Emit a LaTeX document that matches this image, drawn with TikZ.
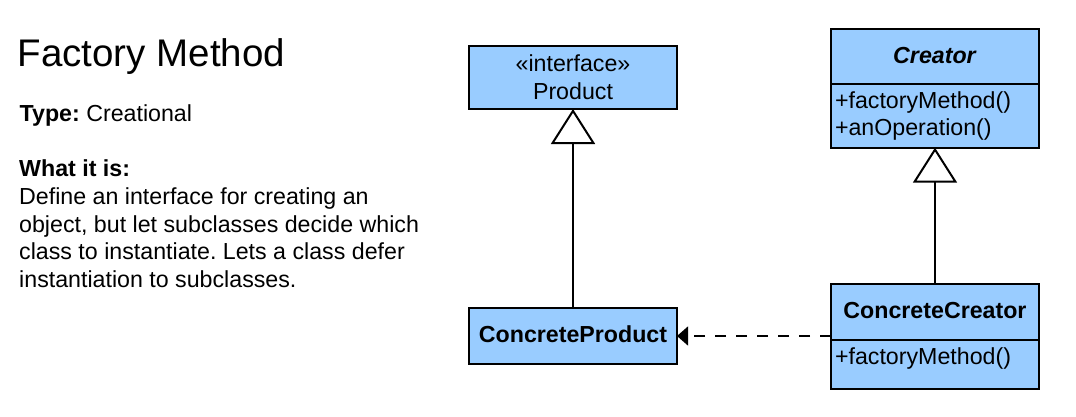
\documentclass[tikz,border=0pt]{standalone}
\usepackage{fontspec}
\setmainfont{Liberation Sans}
\usepackage{xcolor}
\usetikzlibrary{
	positioning,       %定位
	arrows.meta        %提供各种箭头
}
\frenchspacing
\definecolor{classblue}{RGB}{153,204,255}
\newcommand\umlfont{\fontsize{23.2}{27.6}\selectfont}
\tikzset{
	every picture/.style={
		>=latex,
		x=1pt,y=-1pt
	},
	classbox/.style={draw,
		line width=2.2pt,
		fill=classblue,
		outer sep=0pt,
		inner sep=0pt,
		minimum width=208pt,
		font=\umlfont,
		align=center},
	titlebox/.style={text height=16.5pt,text depth=3pt},
	opsbox/.style={text width=200pt,inner xsep=4pt,align=left},
	inherit/.style={line width=1.4pt,
		-{Triangle[length=35pt,width=44pt,fill=white,line width=2pt]}},
	depend/.style={line width=1.4pt,
		dash pattern=on 11pt off 10pt,
		-{Triangle[length=11pt,width=19pt]}}
}

\begin{document}
\begin{tikzpicture}
\useasboundingbox (0,0) rectangle (1076,416);
% text on the left
\node[anchor=base west,inner sep=0pt,font=\fontsize{38.5}{44}\selectfont] (title) at (17.5,66.7) {Factory Method};
\node[anchor=base west,inner sep=0pt,font=\umlfont] (type) at (19.5,121.7) {\textbf{Type:} Creational};
\node[anchor=north west,inner sep=0pt,font=\umlfont,align=left] (whatis) at (19,159.8)
{\textbf{What it is:}\\Define an interface for creating an\\object, but let subclasses decide which\\class to instantiate. Lets a class defer\\instantiation to subclasses.};
% classes
\node[classbox,minimum height=63pt] (product) at (573,77.5) {«interface»\\Product};
\node[classbox,titlebox,minimum height=56pt] (cprod) at (573,336) {\textbf{ConcreteProduct}};
\node[classbox,titlebox,minimum height=55.3pt] (creator) at (935,56.35) {\textbf{\textit{Creator}}};
\node[classbox,opsbox,minimum height=63.7pt,below=0pt of creator] (creatorops) {+factoryMethod()\\+anOperation()};
\node[classbox,titlebox,minimum height=55.7pt] (ccreator) at (935,312.15) {\textbf{ConcreteCreator}};
\node[classbox,opsbox,minimum height=48.7pt,text height=17pt,text depth=17pt,below=0pt of ccreator] (ccreatorops) {+factoryMethod()};
% relations
\draw[inherit] (cprod) -- (product);
\draw[inherit] (ccreator) -- (creatorops);
\draw[depend] (ccreator.west |- cprod.east) -- (cprod.east);
\end{tikzpicture}
\end{document}
